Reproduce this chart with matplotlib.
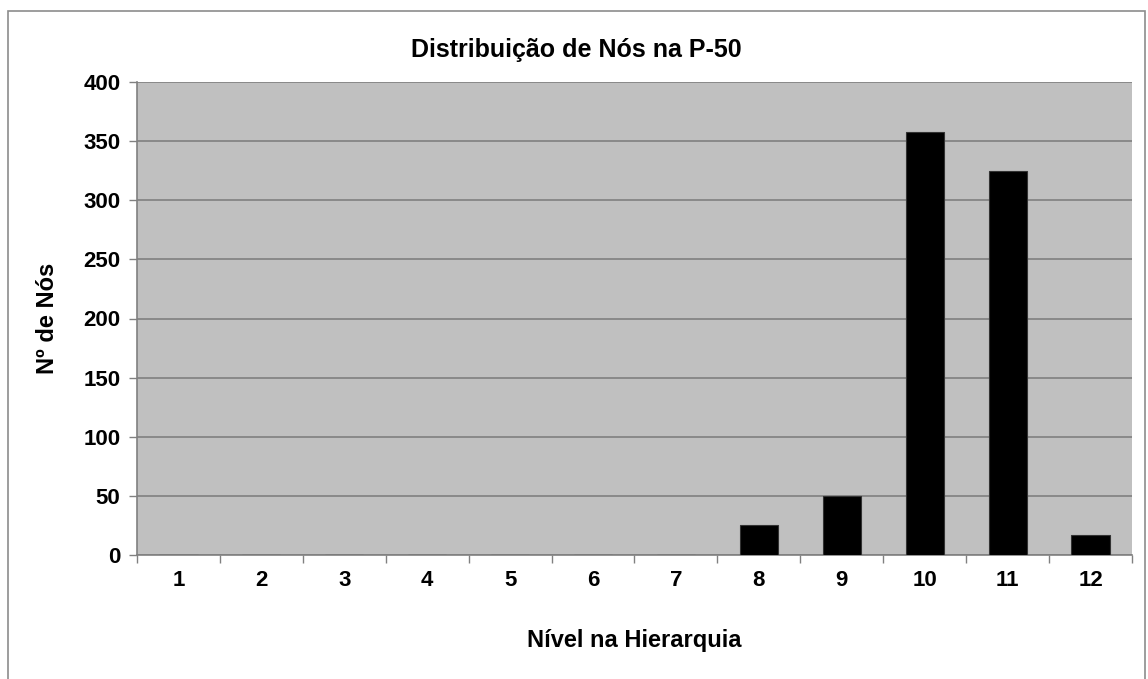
import matplotlib
matplotlib.use("Agg")
import matplotlib.pyplot as plt
from matplotlib.patches import Rectangle

levels = [1, 2, 3, 4, 5, 6, 7, 8, 9, 10, 11, 12]
counts = [0, 0, 0, 0, 0, 0, 0, 25, 50, 358, 325, 17]
yticks = [0, 50, 100, 150, 200, 250, 300, 350, 400]

plt.rcParams['font.family'] = ['Liberation Sans', 'DejaVu Sans']
plt.rcParams['font.weight'] = 'bold'

W, H = 1148, 679
fig = plt.figure(figsize=(W / 100, H / 100), dpi=100)
ax = fig.add_axes([137 / W, 1 - 555 / H, (1132 - 137) / W, (555 - 82) / H])

# outer chart border
fig.patches.append(Rectangle((8 / W, -0.05), (1145 - 8) / W, 1.05 - 11 / H,
                             transform=fig.transFigure, fill=False,
                             edgecolor='#8c8c8c', linewidth=1.2))

FS = 16
ax.set_facecolor('#c0c0c0')
ax.bar(levels, counts, width=0.46, color='black', edgecolor='#333333',
       linewidth=0.8, zorder=3)
ax.set_xlim(0.5, 12.5)
ax.set_ylim(0, 400)
ax.set_yticks(yticks)
ax.set_yticklabels([str(v) for v in yticks], fontsize=FS, fontweight='bold')
ax.set_xticks(levels)
ax.set_xticklabels([str(v) for v in levels], fontsize=FS, fontweight='bold')
ax.tick_params(axis='x', which='major', length=0, pad=11)
ax.set_xticks([x + 0.5 for x in range(0, 13)], minor=True)
ax.tick_params(axis='x', which='minor', length=6, color='#808080', width=1)
ax.tick_params(axis='y', length=6, color='#808080', width=1, pad=6)
ax.yaxis.grid(True, color='#808080', linewidth=1.2, zorder=0)
ax.set_axisbelow(True)
for s in ['top', 'right']:
    ax.spines[s].set_visible(False)
for s in ['left', 'bottom']:
    ax.spines[s].set_color('#808080')
    ax.spines[s].set_linewidth(1.2)

fig.text(48 / W, 1 - 318 / H, 'Nº de Nós', rotation=90, ha='center',
         va='center', fontsize=17, fontweight='bold')
fig.text(634 / W, 1 - 640 / H, 'Nível na Hierarquia', ha='center',
         va='center', fontsize=17, fontweight='bold')
fig.text(576 / W, 1 - 50 / H, 'Distribuição de Nós na P-50', ha='center',
         va='center', fontsize=18, fontweight='bold')

fig.savefig('out.png', dpi=100)
